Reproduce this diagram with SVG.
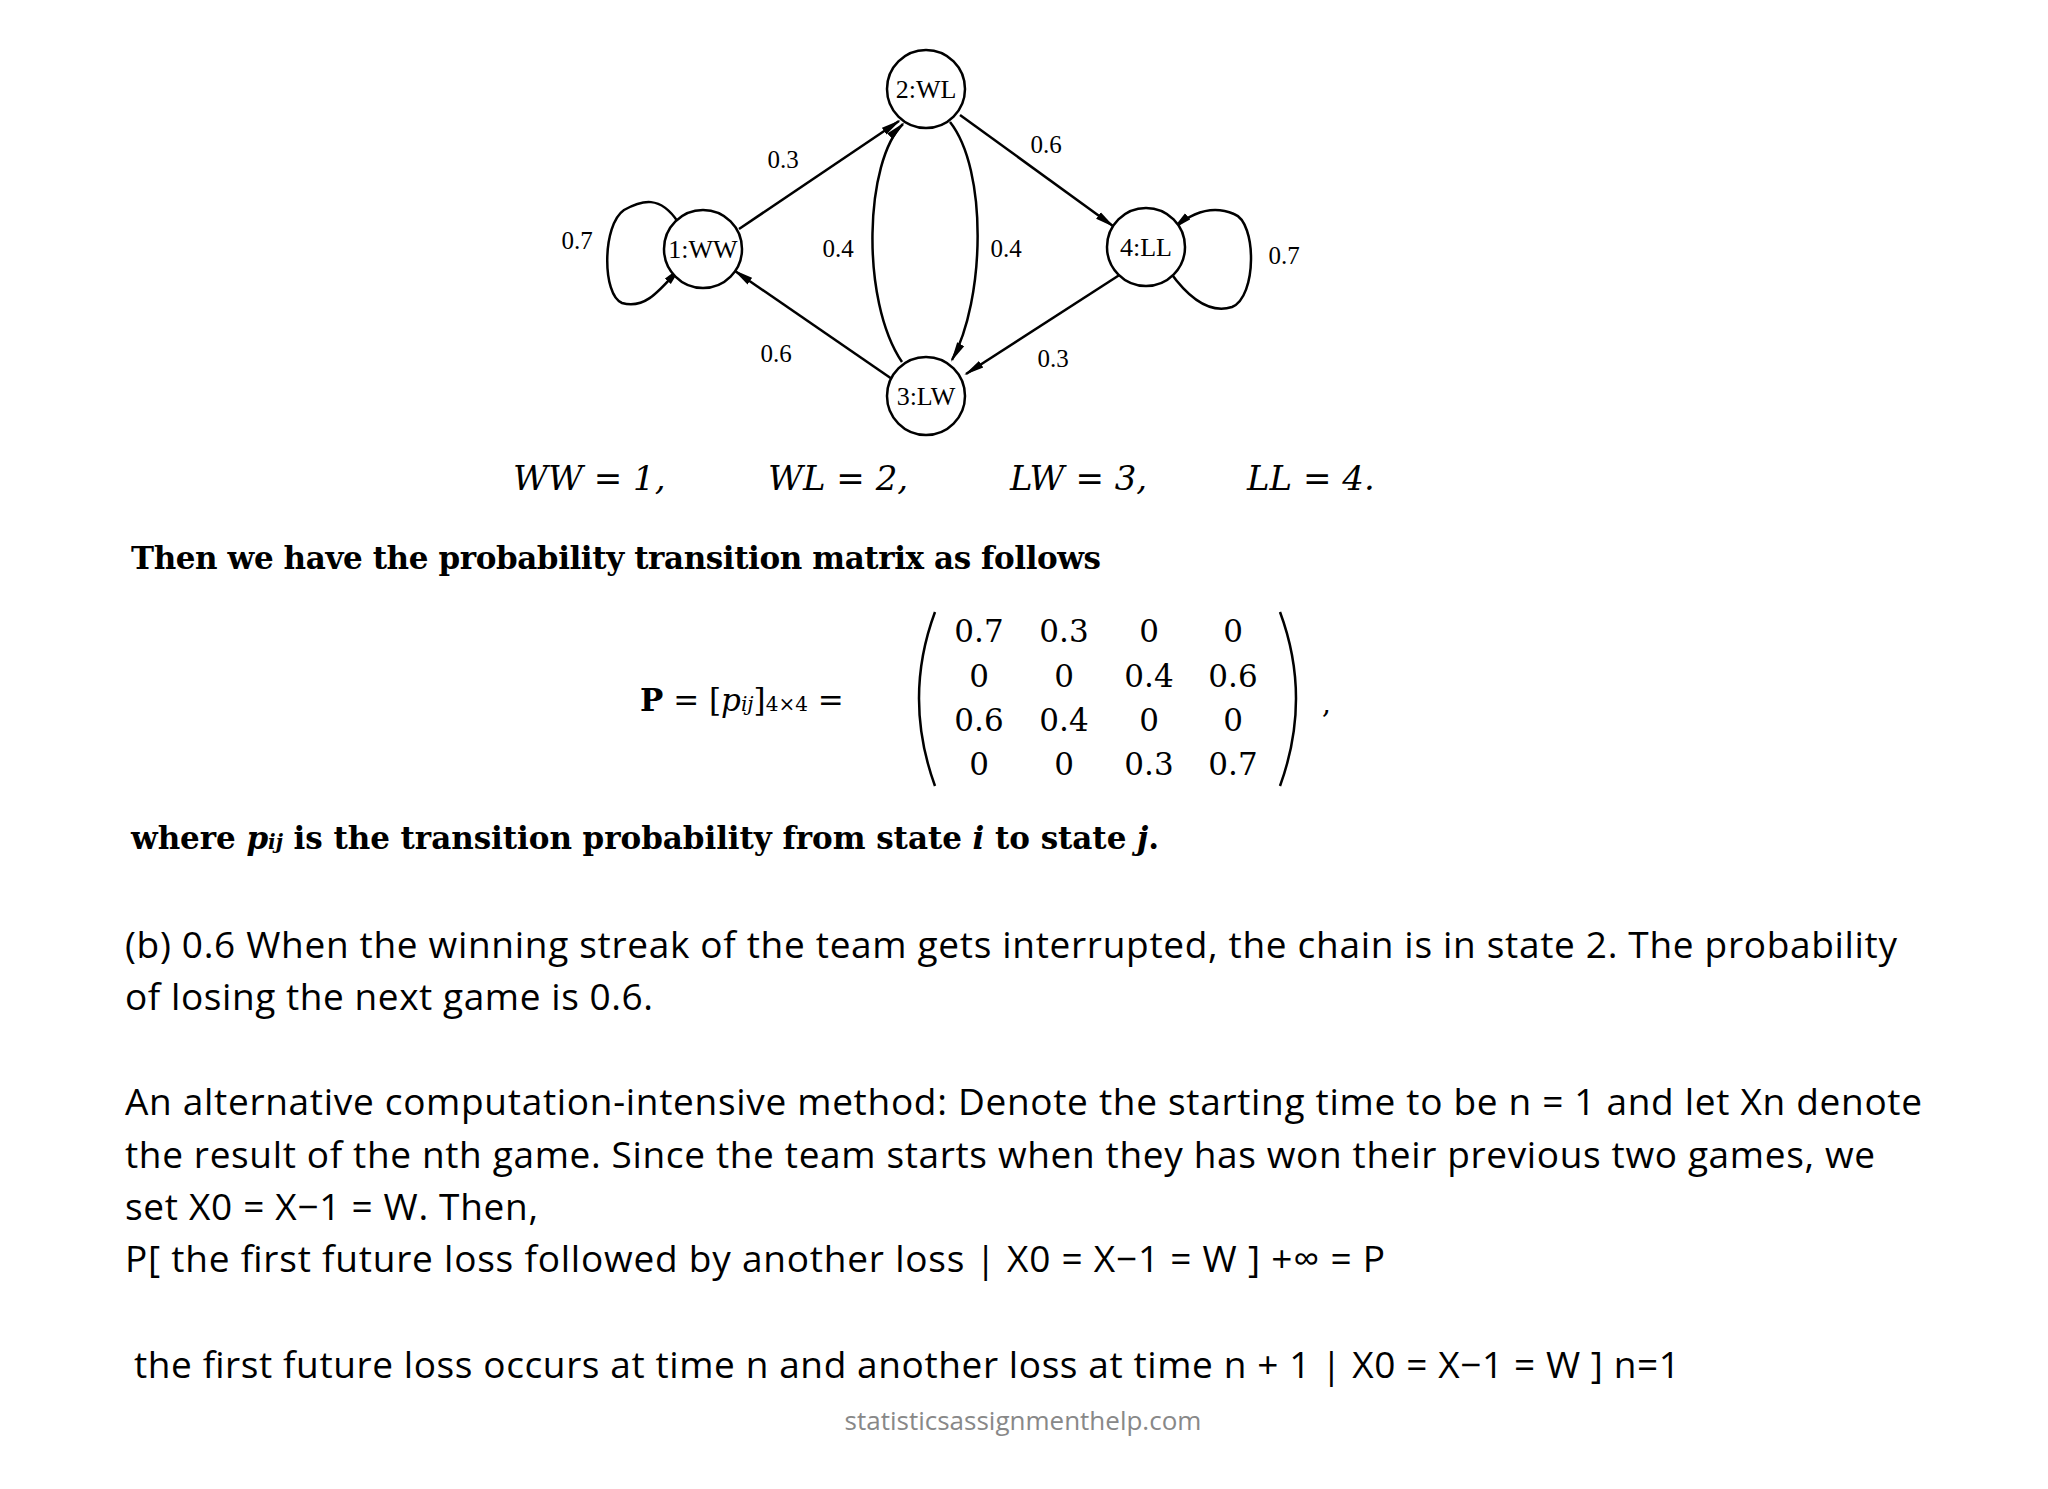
<svg xmlns="http://www.w3.org/2000/svg" width="2048" height="1489" viewBox="0 0 2048 1489">
<style>
.n{fill:#fff;stroke:#000;stroke-width:2.5}
.nt{font-family:"Liberation Serif",serif;font-size:26px;text-anchor:middle}
.e{fill:none;stroke:#000;stroke-width:2.5}
.lb{font-family:"Liberation Serif",serif;font-size:25px;text-anchor:middle}
.m{font-family:"DejaVu Serif",serif;font-size:31px;font-weight:bold}
.mi{font-family:"DejaVu Serif",serif;font-size:34px;font-style:italic}
.mc{font-family:"DejaVu Serif",serif;font-size:31px;text-anchor:middle}
.b{font-family:"Open Sans","Liberation Sans",sans-serif;font-size:37px}
</style>
<defs>
<marker id="ar" viewBox="0 0 20 10" refX="18" refY="5" markerWidth="20" markerHeight="10" orient="auto" markerUnits="userSpaceOnUse"><path d="M0,1 L20,5 L0,9 z"/></marker></defs>
<g id="connectors">
<path class="e" d="M739,229 L899,121" marker-end="url(#ar)"/>
<path class="e" d="M960,115 L1113,226" marker-end="url(#ar)"/>
<path class="e" d="M1121,274 L966,374" marker-end="url(#ar)"/>
<path class="e" d="M892,379 L735,271" marker-end="url(#ar)"/>
<path class="e" d="M902,362 C860,300 865,160 903,124" marker-end="url(#ar)"/>
<path class="e" d="M950,122 C988,170 985,300 952,360" marker-end="url(#ar)"/>
<path class="e" d="M678,222 C660,195 642,200 624,210 C602,225 602,295 622,303 C645,310 660,290 680,268" marker-end="url(#ar)"/>
<path class="e" d="M1170,272 C1190,300 1210,314 1232,307 C1257,297 1257,222 1234,214 C1215,206 1195,210 1174,228" marker-end="url(#ar)"/>
</g>
<g id="n2"><circle class="n" cx="926" cy="89" r="39"/><text class="nt" x="926" y="98">2:WL</text></g>
<g id="n1"><circle class="n" cx="703" cy="249" r="39"/><text class="nt" x="703" y="258">1:WW</text></g>
<g id="n4"><circle class="n" cx="1146" cy="247" r="39"/><text class="nt" x="1146" y="256">4:LL</text></g>
<g id="n3"><circle class="n" cx="926" cy="396" r="39"/><text class="nt" x="926" y="405">3:LW</text></g>
<g id="labels">
<text class="lb" x="783" y="168">0.3</text>
<text class="lb" x="1046" y="153">0.6</text>
<text class="lb" x="577" y="249">0.7</text>
<text class="lb" x="838" y="257">0.4</text>
<text class="lb" x="1006" y="257">0.4</text>
<text class="lb" x="1284" y="264">0.7</text>
<text class="lb" x="776" y="362">0.6</text>
<text class="lb" x="1053" y="367">0.3</text>
</g>
<g id="legend" class="mi">
<text x="513" y="490">WW = 1,</text>
<text x="768" y="490">WL = 2,</text>
<text x="1010" y="490">LW = 3,</text>
<text x="1247" y="490">LL = 4.</text>
</g>
<text class="m" x="131" y="569" textLength="970">Then we have the probability transition matrix as follows</text>
<text x="640" y="711" font-family="DejaVu Serif,serif" font-size="31px"><tspan font-weight="bold">P</tspan> = [<tspan font-style="italic">p</tspan><tspan font-style="italic" font-size="20px">ij</tspan>]<tspan font-size="20px">4×4</tspan> =</text>
<g class="mc">
<text x="979" y="642">0.7</text><text x="1064" y="642">0.3</text><text x="1149" y="642">0</text><text x="1233" y="642">0</text>
<text x="979" y="687">0</text><text x="1064" y="687">0</text><text x="1149" y="687">0.4</text><text x="1233" y="687">0.6</text>
<text x="979" y="731">0.6</text><text x="1064" y="731">0.4</text><text x="1149" y="731">0</text><text x="1233" y="731">0</text>
<text x="979" y="775">0</text><text x="1064" y="775">0</text><text x="1149" y="775">0.3</text><text x="1233" y="775">0.7</text>
</g>
<path class="e" stroke-width="3" d="M935,612 Q903,698 935,786"/>
<path class="e" stroke-width="3" d="M1280,612 Q1312,698 1280,786"/>
<text x="1322" y="713" font-family="DejaVu Serif,serif" font-size="28px">,</text>
<text class="m" x="131" y="849" textLength="1028">where <tspan font-style="italic">p</tspan><tspan font-style="italic" font-size="20px">ij</tspan> is the transition probability from state <tspan font-style="italic">i</tspan> to state <tspan font-style="italic">j</tspan>.</text>
<g class="b">
<text x="125" y="958" textLength="1772">(b) 0.6 When the winning streak of the team gets interrupted, the chain is in state 2. The probability</text>
<text x="125" y="1010" textLength="528">of losing the next game is 0.6.</text>
<text x="125" y="1115" textLength="1797">An alternative computation-intensive method: Denote the starting time to be n = 1 and let Xn denote</text>
<text x="125" y="1168" textLength="1750">the result of the nth game. Since the team starts when they has won their previous two games, we</text>
<text x="125" y="1220" textLength="413">set X0 = X−1 = W. Then,</text>
<text x="125" y="1272" textLength="1260">P[ the first future loss followed by another loss | X0 = X−1 = W ] +∞ = P</text>
<text x="134" y="1378" textLength="1546">the first future loss occurs at time n and another loss at time n + 1 | X0 = X−1 = W ] n=1</text>
</g>
<text x="1023" y="1430" font-family="Open Sans,Liberation Sans,sans-serif" font-size="26px" fill="#888" text-anchor="middle">statisticsassignmenthelp.com</text>
</svg>
